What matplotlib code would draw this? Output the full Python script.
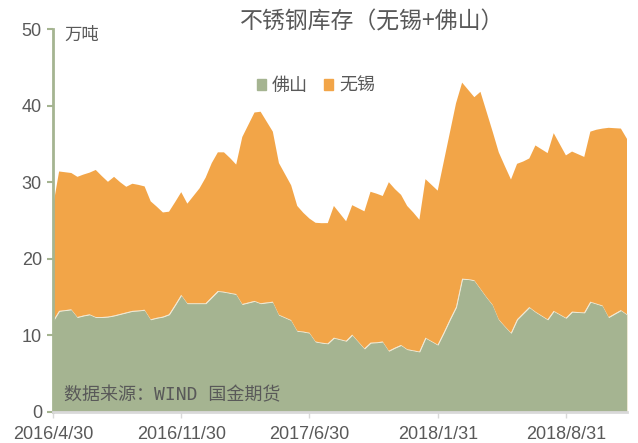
import numpy as np
import matplotlib
matplotlib.use("Agg")
import matplotlib.pyplot as plt
from matplotlib.patches import Patch

plt.rcParams['font.family'] = ['Liberation Sans', 'Noto Sans CJK SC', 'DejaVu Sans']

# ten-day data, 2016/4/30 .. 2018/12
foshan = [11.9, 13.2, 13.3, 13.4, 12.4, 12.6, 12.75, 12.4, 12.4, 12.45,
          12.6, 12.8, 13.0, 13.2, 13.25, 13.35, 12.1, 12.3, 12.45, 12.75,
          14.0, 15.3, 14.2, 14.2, 14.2, 14.2, 15.0, 15.8, 15.7, 15.55,
          15.4, 14.1, 14.3, 14.5, 14.2, 14.3, 14.4, 12.7, 12.35, 12.0,
          10.6, 10.5, 10.35, 9.2, 9.05, 8.96, 9.7, 9.5, 9.3, 10.1,
          9.2, 8.3, 9.05, 9.1, 9.2, 8.0, 8.4, 8.75, 8.2, 8.05,
          7.9, 9.7, 9.25, 8.8, 10.4, 12.1, 13.7, 17.4, 17.35, 17.2,
          16.1, 15.0, 14.0, 12.1, 11.2, 10.35, 12.1, 12.9, 13.7, 13.1,
          12.6, 12.1, 13.2, 12.75, 12.3, 13.1, 13.05, 13.0, 14.4, 14.15,
          13.9, 12.4, 12.85, 13.3, 12.75]
wuxi = [14.9, 18.2, 18.0, 17.8, 18.3, 18.4, 18.5, 19.2, 18.4, 17.6,
        18.1, 17.2, 16.4, 16.6, 16.4, 16.1, 15.4, 14.5, 13.6, 13.4,
        13.4, 13.4, 13.0, 14.0, 15.0, 16.4, 17.5, 18.1, 18.2, 17.6,
        16.9, 21.8, 23.2, 24.6, 25.0, 23.6, 22.2, 19.8, 18.7, 17.6,
        16.3, 15.5, 14.9, 15.5, 15.6, 15.7, 17.2, 16.4, 15.6, 16.9,
        17.4, 17.9, 19.7, 19.4, 19.0, 22.0, 20.7, 19.6, 18.7, 18.0,
        17.2, 20.7, 20.4, 20.1, 22.3, 24.4, 26.6, 25.6, 24.7, 23.9,
        25.7, 24.2, 22.6, 21.8, 20.9, 20.0, 20.3, 19.8, 19.4, 21.7,
        21.7, 21.7, 23.2, 22.2, 21.2, 20.9, 20.6, 20.3, 22.2, 22.7,
        23.1, 24.7, 24.2, 23.7, 22.9]
tick_labels = ['2016/4/30', '2016/11/30', '2017/6/30', '2018/1/31', '2018/8/31']
series_names = ['佛山', '无锡']

c_green = '#a5b491'
c_orange = '#f2a548'
c_text = '#595959'

fig = plt.figure(figsize=(6.38, 4.43), dpi=100)
ax = fig.add_axes([53 / 638, 1 - 412 / 443, (627 - 53) / 638, (412 - 29) / 443])

x = np.arange(len(foshan))
polys = ax.stackplot(x, foshan, wuxi, colors=[c_green, c_orange])
polys[0].set_edgecolor('#f3ecd8')
polys[0].set_linewidth(0.6)
polys[1].set_linewidth(0)

ax.set_xlim(0, len(x) - 1)
ax.set_ylim(0, 50)
ax.set_yticks(np.arange(0, 51, 10))
ax.set_xticks(np.arange(0, len(x), 21))
ax.set_xticklabels(tick_labels)

for s in ['top', 'right']:
    ax.spines[s].set_visible(False)
ax.spines['left'].set_color(c_green)
ax.spines['left'].set_linewidth(2)
ax.spines['bottom'].set_color('#d9d9d9')
ax.spines['bottom'].set_linewidth(2)
ax.spines['bottom'].set_zorder(5)

ax.tick_params(axis='y', colors=c_text, labelsize=13, length=4, width=1.5,
               color=c_green, pad=4)
ax.tick_params(axis='x', colors=c_text, labelsize=13, length=4, width=1,
               color='#d9d9d9', pad=6)

fig.text(372 / 638, 1 - 22 / 443, '不锈钢库存（无锡+佛山）', ha='center', va='center',
         fontsize=16.5, color=c_text, family=['Noto Sans CJK SC', 'DejaVu Sans'])
fig.text(64 / 638, 1 - 35 / 443, '万吨', ha='left', va='center', fontsize=12.5,
         color=c_text, family=['Noto Sans CJK SC'])
fig.text(64 / 638, 1 - 395 / 443, '数据来源：WIND 国金期货', ha='left', va='center',
         fontsize=13, color=c_text, family=['DejaVu Sans Mono', 'Noto Sans CJK SC'])

handles = [Patch(color=c_green, label=series_names[0]),
           Patch(color=c_orange, label=series_names[1])]
fig.legend(handles=handles, loc='center', bbox_to_anchor=(316 / 638, 1 - 86 / 443),
           ncol=2, frameon=False, labelcolor=c_text,
           handlelength=0.5, handleheight=0.5, handletextpad=0.35, columnspacing=0.9,
           prop={'family': ['Noto Sans CJK SC'], 'size': 13})

fig.savefig('out.png', dpi=100)
